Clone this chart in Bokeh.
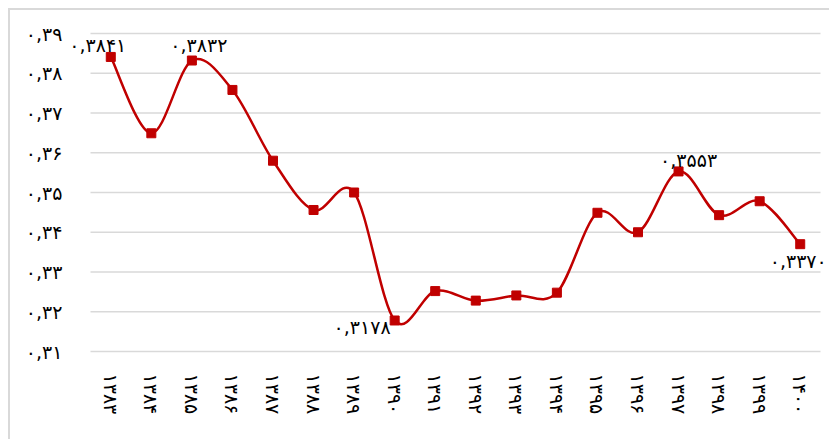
from bokeh.plotting import figure
from bokeh.models import FixedTicker, Range1d
from bokeh.embed import file_html
from bokeh.resources import INLINE
from bokeh.core.properties import value

# ---- data ----
years = ["۱۳۸۳", "۱۳۸۴", "۱۳۸۵", "۱۳۸۶", "۱۳۸۷", "۱۳۸۸", "۱۳۸۹", "۱۳۹۰", "۱۳۹۱",
         "۱۳۹۲", "۱۳۹۳", "۱۳۹۴", "۱۳۹۵", "۱۳۹۶", "۱۳۹۷", "۱۳۹۸", "۱۳۹۹", "۱۴۰۰"]
gini = [0.3841, 0.3649, 0.3832, 0.3758, 0.3580, 0.3456, 0.3500, 0.3178, 0.3252,
        0.3228, 0.3241, 0.3248, 0.3449, 0.3400, 0.3553, 0.3443, 0.3478, 0.3370]
y_ticks = [0.31, 0.32, 0.33, 0.34, 0.35, 0.36, 0.37, 0.38, 0.39]
y_tick_labels = ["۰,۳۱", "۰,۳۲", "۰,۳۳", "۰,۳۴", "۰,۳۵", "۰,۳۶", "۰,۳۷", "۰,۳۸", "۰,۳۹"]
labelled_years = ["۱۳۸۳", "۱۳۸۵", "۱۳۹۰", "۱۳۹۷", "۱۴۰۰"]

RED = "#C00000"
GRID = "#d9d9d9"
FONT = "DejaVu Sans"

def fa_num(v):
    digits = "۰۱۲۳۴۵۶۷۸۹"
    s = "%.4f" % v
    return "".join(digits[int(c)] if c.isdigit() else "," for c in s)

n = len(years)
xs = list(range(n))

# layout: the category span is 730 px wide, the value span 318 px tall;
# the frame is padded around them so that texts outside the span are not clipped
W, H = 821, 431
LEFT_PAD, RIGHT_PAD, PLOT_W = 80, 11, 730
TOP_PAD, BOTTOM_PAD, PLOT_H, BOTTOM_BORDER = 23, 14, 318, 76
ux = PLOT_W / n
uy = PLOT_H / (y_ticks[-1] - y_ticks[0])
x_start = -0.5 - LEFT_PAD / ux
x_end = n - 0.5 + RIGHT_PAD / ux
y_start = y_ticks[0] - BOTTOM_PAD / uy
y_end = y_ticks[-1] + TOP_PAD / uy

p = figure(width=W, height=H, output_backend="svg", toolbar_location=None,
           x_range=Range1d(x_start, x_end), y_range=Range1d(y_start, y_end),
           y_axis_location=None,
           min_border_left=0, min_border_right=0, min_border_top=0,
           min_border_bottom=BOTTOM_BORDER)
p.styles = {"margin-top": "8px", "margin-left": "8px",
            "border-top": "2px solid #d9d9d9", "border-left": "2px solid #d9d9d9"}
p.outline_line_color = None
p.background_fill_color = "white"
p.border_fill_color = "white"
p.grid.grid_line_color = None

# horizontal gridlines across the category span
p.segment(x0=[-0.5] * len(y_ticks), x1=[n - 0.5] * len(y_ticks), y0=y_ticks, y1=y_ticks,
          line_color=GRID, line_width=1.5)

# y tick labels
p.text(x=[-0.5] * len(y_ticks), y=y_ticks, text=y_tick_labels, x_offset=-28,
       text_align="right", text_baseline="middle", text_font=value(FONT),
       text_font_size="19px", text_color="black")

# smoothed line (Catmull-Rom style cubic Bezier segments through the points)
x0, y0, x1, y1, cx0, cy0, cx1, cy1 = [], [], [], [], [], [], [], []
for i in range(n - 1):
    ip = max(i - 1, 0)
    inx = min(i + 2, n - 1)
    x0.append(xs[i]); y0.append(gini[i])
    x1.append(xs[i + 1]); y1.append(gini[i + 1])
    cx0.append(xs[i] + (xs[i + 1] - xs[ip]) / 6.0)
    cy0.append(gini[i] + (gini[i + 1] - gini[ip]) / 6.0)
    cx1.append(xs[i + 1] - (xs[inx] - xs[i]) / 6.0)
    cy1.append(gini[i + 1] - (gini[inx] - gini[i]) / 6.0)
p.bezier(x0=x0, y0=y0, x1=x1, y1=y1, cx0=cx0, cy0=cy0, cx1=cx1, cy1=cy1,
         line_color=RED, line_width=2.5)
p.scatter(xs, gini, marker="square", size=9, fill_color=RED, line_color=RED)

# data labels (offsets in screen pixels, y down)
offsets = {"۱۳۸۳": (-13, -12, "center"), "۱۳۸۵": (7, -16, "center"),
           "۱۳۹۰": (-4, 7, "right"), "۱۳۹۷": (10, -11, "center"),
           "۱۴۰۰": (-2, 17, "center")}
for yr in labelled_years:
    i = years.index(yr)
    dx, dy, al = offsets[yr]
    p.text(x=[xs[i]], y=[gini[i]], text=[fa_num(gini[i])], x_offset=dx, y_offset=dy,
           text_align=al, text_baseline="middle", text_font=value(FONT),
           text_font_size="19px", text_color="black")

# x axis
p.xaxis.ticker = FixedTicker(ticks=xs)
p.xaxis.major_label_overrides = {i: years[i] for i in xs}
p.xaxis.major_label_orientation = "vertical"
p.xaxis.major_label_standoff = 16 - BOTTOM_PAD
p.xaxis.axis_line_color = None
p.xaxis.major_tick_line_color = None
p.xaxis.minor_tick_line_color = None
p.xaxis.major_label_text_font = FONT
p.xaxis.major_label_text_font_size = "19px"
p.xaxis.major_label_text_color = "black"

open("out.html", "w").write(file_html(p, INLINE))
